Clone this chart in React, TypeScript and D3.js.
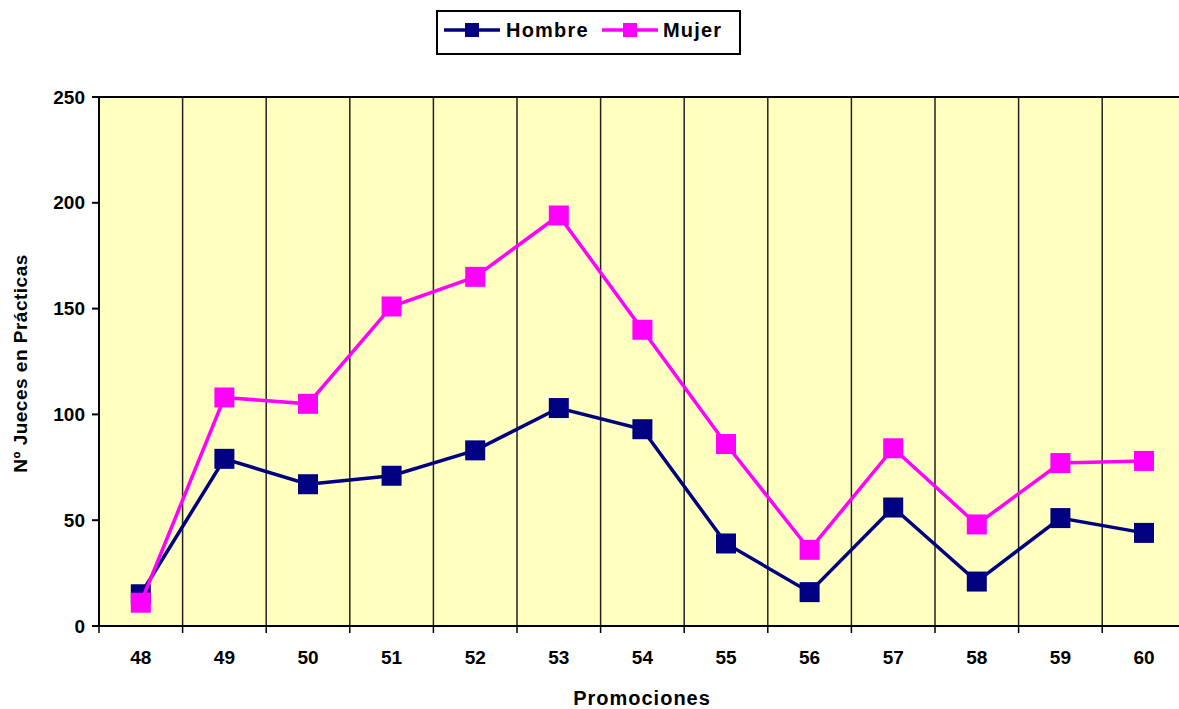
import React from "react";
import * as d3 from "d3";

const categories = ["48", "49", "50", "51", "52", "53", "54", "55", "56", "57", "58", "59", "60"];
const hombre = [15, 79, 67, 71, 83, 103, 93, 39, 16, 56, 21, 51, 44];
const mujer = [11, 108, 105, 151, 165, 194, 140, 86, 36, 84, 48, 77, 78];
const yTicks = [0, 50, 100, 150, 200, 250];

const W = 1179;
const H = 709;
const left = 99;
const top = 97;
const bottom = 626;
const right = 99 + 13 * 83.6;

export default function App() {
  const x = d3.scaleBand<string>().domain(categories).range([left, right]);
  const y = d3.scaleLinear().domain([0, 250]).range([bottom, top]);
  const line = d3
    .line<number>()
    .x((_, i) => (x(categories[i]) as number) + x.bandwidth() / 2)
    .y((d) => y(d));
  const font = "Arial, 'Liberation Sans', sans-serif";
  const ms = 20;
  const series = [
    { name: "Hombre", data: hombre, color: "#000080" },
    { name: "Mujer", data: mujer, color: "#FF00FF" },
  ];
  return (
    <svg width={W} height={H} style={{ position: "fixed", left: 0, top: 0 }} fontFamily={font}>
      <rect x={0} y={0} width={W} height={H} fill="#fff" />
      <rect x={left} y={top} width={right - left} height={bottom - top} fill="#FFFFC0" />
      {categories.slice(1).map((c) => (
        <line key={c} x1={x(c)} x2={x(c)} y1={top} y2={bottom} stroke="#222" strokeWidth={1.5} />
      ))}
      <line x1={left} x2={right} y1={top} y2={top} stroke="#000" strokeWidth={2} />
      <line x1={left} x2={left} y1={top} y2={bottom} stroke="#000" strokeWidth={2} />
      <line x1={left} x2={right} y1={bottom} y2={bottom} stroke="#000" strokeWidth={2} />
      {yTicks.map((t) => (
        <g key={t}>
          <line x1={left - 7} x2={left} y1={y(t)} y2={y(t)} stroke="#000" strokeWidth={2} />
          <text x={left - 14} y={y(t)} dy="0.35em" textAnchor="end" fontSize={19} fontWeight="bold">
            {t}
          </text>
        </g>
      ))}
      {categories.map((c) => (
        <g key={c}>
          <line x1={x(c)} x2={x(c)} y1={bottom} y2={bottom + 7} stroke="#000" strokeWidth={1.5} />
          <text
            x={(x(c) as number) + x.bandwidth() / 2}
            y={bottom + 38}
            textAnchor="middle"
            fontSize={19}
            fontWeight="bold"
          >
            {c}
          </text>
        </g>
      ))}
      {series.map((s) => (
        <g key={s.name}>
          <path d={line(s.data) || ""} fill="none" stroke={s.color} strokeWidth={3.5} />
          {s.data.map((v, i) => (
            <rect
              key={i}
              x={(x(categories[i]) as number) + x.bandwidth() / 2 - ms / 2}
              y={y(v) - ms / 2}
              width={ms}
              height={ms}
              fill={s.color}
            />
          ))}
        </g>
      ))}
      <text x={642} y={705} textAnchor="middle" fontSize={20} fontWeight="bold" letterSpacing={1}>
        Promociones
      </text>
      <text
        transform={`translate(27, ${(top + bottom) / 2 + 2}) rotate(-90)`}
        textAnchor="middle"
        fontSize={19}
        fontWeight="bold"
        letterSpacing={0.5}
      >
        Nº Jueces en Prácticas
      </text>
      <g>
        <rect x={437} y={11} width={303} height={43} fill="#fff" stroke="#000" strokeWidth={2} />
        <line x1={444} x2={500} y1={30} y2={30} stroke="#000080" strokeWidth={3.5} />
        <rect x={465} y={23} width={14} height={14} fill="#000080" />
        <text x={506} y={30} dy="0.35em" fontSize={20} fontWeight="bold" letterSpacing={1.2}>
          Hombre
        </text>
        <line x1={602} x2={658} y1={30} y2={30} stroke="#FF00FF" strokeWidth={3.5} />
        <rect x={623} y={23} width={14} height={14} fill="#FF00FF" />
        <text x={663} y={30} dy="0.35em" fontSize={20} fontWeight="bold" letterSpacing={1.2}>
          Mujer
        </text>
      </g>
    </svg>
  );
}
